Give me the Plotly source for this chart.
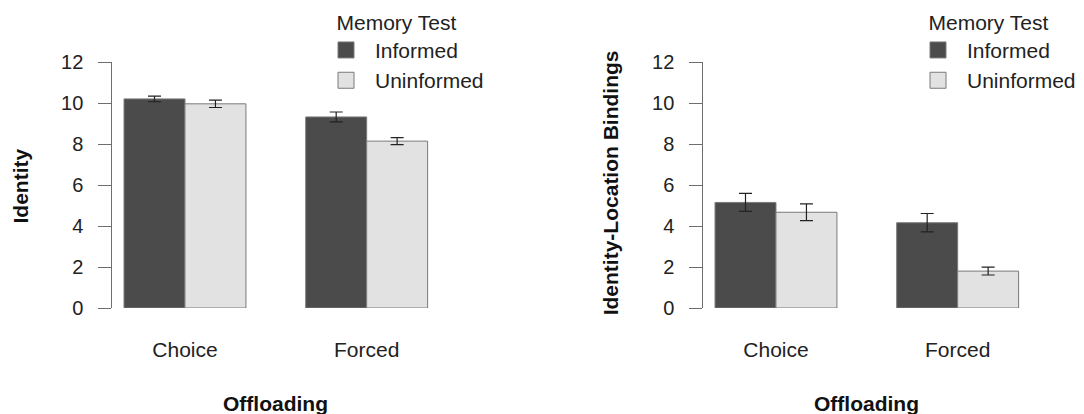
import plotly.graph_objects as go

categories = ["Choice", "Forced"]
groups = ["Informed", "Uninformed"]

# Left panel: Identity
identity_informed = [10.20, 9.32]
identity_informed_se = [0.14, 0.24]
identity_uninformed = [9.96, 8.14]
identity_uninformed_se = [0.18, 0.17]

# Right panel: Identity-Location Bindings
binding_informed = [5.15, 4.16]
binding_informed_se = [0.44, 0.45]
binding_uninformed = [4.67, 1.80]
binding_uninformed_se = [0.41, 0.19]

y_ticks = [0, 2, 4, 6, 8, 10, 12]

W, H = 1084, 414
FONT = "Liberation Sans, Arial, Helvetica, sans-serif"
DARK = "#4b4b4b"
LIGHT = "#e2e2e2"
EDGE = "#7a7a7a"
ERR = "#222222"

fills = {"Informed": DARK, "Uninformed": LIGHT}

fig = go.Figure()

panels = [
    ("x", "y", "legend", [identity_informed, identity_uninformed],
     [identity_informed_se, identity_uninformed_se]),
    ("x2", "y2", "legend2", [binding_informed, binding_uninformed],
     [binding_informed_se, binding_uninformed_se]),
]

for xa, ya, leg, vals, ses in panels:
    for g, v, s in zip(groups, vals, ses):
        fig.add_trace(go.Bar(
            x=categories, y=v, name=g, xaxis=xa, yaxis=ya,
            marker=dict(color=fills[g], line=dict(color=EDGE, width=1)),
            error_y=dict(type="data", array=s, visible=True,
                         color=ERR, thickness=1.2, width=6.5),
            showlegend=False, legend=leg,
        ))
    for g in groups:
        fig.add_trace(go.Scatter(
            x=[None], y=[None], mode="markers", name=g, xaxis=xa, yaxis=ya,
            marker=dict(symbol="square", size=16, color=fills[g],
                        line=dict(color=EDGE, width=1)),
            showlegend=True, legend=leg,
        ))

ydom = [106 / H, 352 / H]
xdom1 = [112.3 / W, 457.5 / W]
xdom2 = [703.3 / W, 1048.5 / W]

xaxis_common = dict(
    type="category", range=[-0.4, 1.5], showline=False, showgrid=False,
    zeroline=False, ticks="", ticklabelstandoff=27, automargin=False,
    tickfont=dict(family=FONT, size=21, color="#222222"),
    fixedrange=True,
)
yaxis_common = dict(
    range=[0, 12], tickvals=y_ticks, showline=True, linecolor="#6e6e6e",
    linewidth=1, ticks="outside", ticklen=13, tickcolor="#6e6e6e",
    tickwidth=1, showgrid=False, zeroline=False, ticklabelstandoff=11,
    automargin=False,
    tickfont=dict(family=FONT, size=20, color="#222222"),
    fixedrange=True,
)

legend_common = dict(
    title=dict(text="\u00a0\u00a0\u00a0Memory Test",
               font=dict(family=FONT, size=21, color="#222222")),
    font=dict(family=FONT, size=21, color="#222222"),
    bgcolor="rgba(0,0,0,0)", borderwidth=0, xanchor="left", yanchor="top",
    itemwidth=48, tracegroupgap=0,
)

title_font = dict(family=FONT, size=21, color="#111111")

fig.update_layout(
    width=W, height=H,
    margin=dict(l=0, r=0, t=0, b=0, autoexpand=False),
    paper_bgcolor="white", plot_bgcolor="white",
    barmode="group", bargap=0.329, bargroupgap=0,
    xaxis=dict(domain=xdom1, anchor="y", **xaxis_common),
    yaxis=dict(domain=ydom, anchor="x", **yaxis_common),
    xaxis2=dict(domain=xdom2, anchor="y2", **xaxis_common),
    yaxis2=dict(domain=ydom, anchor="x2", **yaxis_common),
    legend=dict(x=317 / W, y=1.0 - 2.5 / H, **legend_common),
    legend2=dict(x=909 / W, y=1.0 - 2.5 / H, **legend_common),
    font=dict(family=FONT),
    hovermode=False,
    annotations=[
        dict(text="<b>Identity</b>", x=20 / W, y=(H - 186.5) / H, xref="paper",
             yref="paper", textangle=-90, showarrow=False,
             xanchor="center", yanchor="middle", font=title_font),
        dict(text="<b>Identity-Location Bindings</b>", x=610 / W, y=(H - 183.3) / H,
             xref="paper", yref="paper", textangle=-90, showarrow=False,
             xanchor="center", yanchor="middle", font=title_font),
        dict(text="<b>Offloading</b>", x=0.5, y=(H - 403.5) / H, xref="x",
             yref="paper", showarrow=False, xanchor="center", yanchor="middle",
             font=title_font),
        dict(text="<b>Offloading</b>", x=0.5, y=(H - 403.5) / H, xref="x2",
             yref="paper", showarrow=False, xanchor="center", yanchor="middle",
             font=title_font),
    ],
)

fig.write_html(
    "out.html",
    config={"displayModeBar": False},
    post_script="document.body.style.margin='0px';document.body.style.overflow='hidden';",
)
